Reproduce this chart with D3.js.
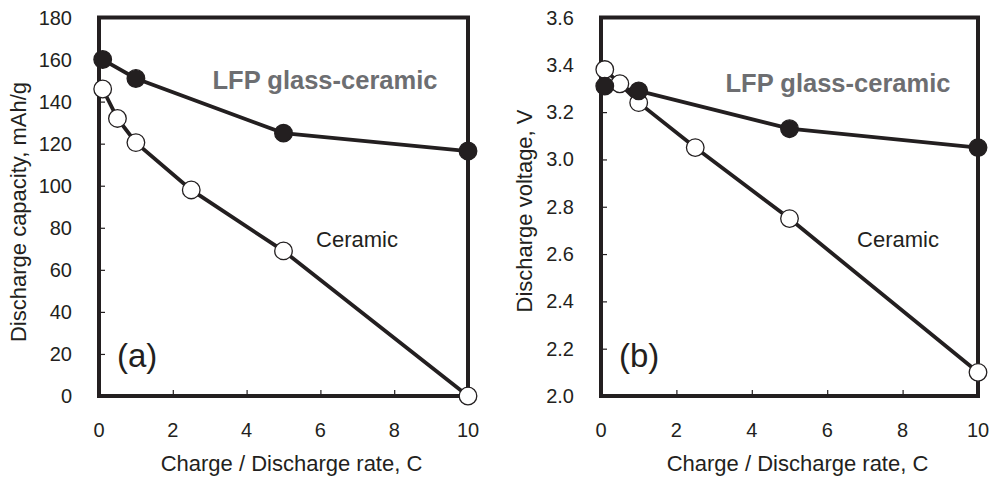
<!DOCTYPE html>
<html>
<head>
<meta charset="utf-8">
<script src="https://cdn.jsdelivr.net/npm/d3@7"></script>
<style>
    body { margin: 0; background: #fff; }
    svg text { font-family: "Liberation Sans", Arial, sans-serif; fill: #231f20; }
</style>
</head>
<body>
<div id="chart"></div>
<script>

// charge / discharge rate, C
var rateLfp = [ 0.1, 1, 5, 10 ];
var rateCeramic = [ 0.1, 0.5, 1, 2.5, 5, 10 ];

// (a) discharge capacity, mAh/g
var capacityLfp = [ 160, 151, 125, 116.5 ];
var capacityCeramic = [ 146, 132, 120.5, 98, 69, 0 ];

// (b) discharge voltage, V
var voltageLfp = [ 3.31, 3.29, 3.13, 3.05 ];
var voltageCeramic = [ 3.38, 3.32, 3.24, 3.05, 2.75, 2.10 ];

var xTicks = [ 0, 2, 4, 6, 8, 10 ];
var capacityTicks = [ 0, 20, 40, 60, 80, 100, 120, 140, 160, 180 ];
var voltageTicks = [ 2.0, 2.2, 2.4, 2.6, 2.8, 3.0, 3.2, 3.4, 3.6 ];

var width = 993,
    height = 477;

var svg = d3.select('#chart').append('svg')
    .attr('width', width)
    .attr('height', height);

function drawPanel ( opts ) {

    var x = d3.scaleLinear()
        .domain([ 0, 10 ])
        .range([ opts.left, opts.right ]);

    var y = d3.scaleLinear()
        .domain( opts.yDomain )
        .range([ 396, 17.5 ]);

    var g = svg.append('g');

    // tick marks, pointing inwards
    var xAxis = d3.axisTop( x )
        .tickValues( xTicks )
        .tickSize( 6 )
        .tickFormat('');

    g.append('g')
        .attr('transform', 'translate(0,' + y.range()[0] + ')')
        .call( xAxis )
        .call( function ( s ) { s.select('.domain').remove(); } )
        .selectAll('line')
        .attr('stroke', '#231f20')
        .attr('stroke-width', 1.2);

    var yAxis = d3.axisRight( y )
        .tickValues( opts.yTicks )
        .tickSize( 6 )
        .tickFormat('');

    g.append('g')
        .attr('transform', 'translate(' + opts.left + ',0)')
        .call( yAxis )
        .call( function ( s ) { s.select('.domain').remove(); } )
        .selectAll('line')
        .attr('stroke', '#231f20')
        .attr('stroke-width', 1.2);

    // tick labels
    g.selectAll('.xlab')
        .data( xTicks )
        .enter().append('text')
        .attr('x', function ( d ) { return x( d ); })
        .attr('y', 437)
        .attr('text-anchor', 'middle')
        .style('font-size', '20px')
        .text( function ( d ) { return d; });

    g.selectAll('.ylab')
        .data( opts.yTicks )
        .enter().append('text')
        .attr('x', opts.left - 27)
        .attr('y', function ( d ) { return y( d ); })
        .attr('dy', '0.35em')
        .attr('text-anchor', 'end')
        .style('font-size', '20px')
        .text( opts.yFormat );

    // frame
    g.append('rect')
        .attr('x', opts.left)
        .attr('y', y.range()[1])
        .attr('width', opts.right - opts.left)
        .attr('height', y.range()[0] - y.range()[1])
        .attr('fill', 'none')
        .attr('stroke', '#231f20')
        .attr('stroke-width', 4);

    // axis titles
    g.append('text')
        .attr('x', ( opts.left + opts.right ) / 2 + 8)
        .attr('y', 471)
        .attr('text-anchor', 'middle')
        .style('font-size', '22px')
        .text('Charge / Discharge rate, C');

    g.append('text')
        .attr('transform', 'translate(' + opts.titleX + ',' + opts.titleY + ') rotate(-90)')
        .attr('text-anchor', 'middle')
        .style('font-size', '22px')
        .text( opts.yTitle );

    var line = d3.line()
        .x( function ( d ) { return x( d[0] ); })
        .y( function ( d ) { return y( d[1] ); });

    var series = [
        { data: d3.zip( rateCeramic, opts.ceramic ), fill: '#ffffff' },
        { data: d3.zip( rateLfp, opts.lfp ), fill: '#231f20' }
    ];

    series.forEach( function ( s ) {

        g.append('path')
            .datum( s.data )
            .attr('d', line)
            .attr('fill', 'none')
            .attr('stroke', '#231f20')
            .attr('stroke-width', 3.8);

    });

    series.forEach( function ( s ) {

        g.selectAll(null)
            .data( s.data )
            .enter().append('circle')
            .attr('cx', function ( d ) { return x( d[0] ); })
            .attr('cy', function ( d ) { return y( d[1] ); })
            .attr('r', 8.8)
            .attr('fill', s.fill)
            .attr('stroke', '#231f20')
            .attr('stroke-width', 1.3);

    });

    // labels
    g.append('text')
        .attr('x', opts.lfpLabel[0])
        .attr('y', opts.lfpLabel[1])
        .attr('text-anchor', 'middle')
        .style('font-size', '25.5px')
        .style('font-weight', 'bold')
        .style('fill', '#6d6e71')
        .text('LFP glass-ceramic');

    g.append('text')
        .attr('x', opts.ceramicLabel[0])
        .attr('y', opts.ceramicLabel[1])
        .attr('text-anchor', 'middle')
        .style('font-size', '22px')
        .text('Ceramic');

    g.append('text')
        .attr('x', opts.left + 18)
        .attr('y', 367)
        .style('font-size', '33px')
        .text( opts.tag );

}

drawPanel({
    left: 99,
    right: 468,
    yDomain: [ 0, 180 ],
    yTicks: capacityTicks,
    yFormat: function ( d ) { return d; },
    yTitle: 'Discharge capacity, mAh/g',
    titleX: 26,
    titleY: 212,
    lfp: capacityLfp,
    ceramic: capacityCeramic,
    lfpLabel: [ 325, 89 ],
    ceramicLabel: [ 357, 247 ],
    tag: '(a)'
});

drawPanel({
    left: 601,
    right: 978,
    yDomain: [ 2.0, 3.6 ],
    yTicks: voltageTicks,
    yFormat: d3.format('.1f'),
    yTitle: 'Discharge voltage,  V',
    titleX: 532,
    titleY: 211,
    lfp: voltageLfp,
    ceramic: voltageCeramic,
    lfpLabel: [ 838, 92 ],
    ceramicLabel: [ 898, 247 ],
    tag: '(b)'
});

</script>
</body>
</html>
